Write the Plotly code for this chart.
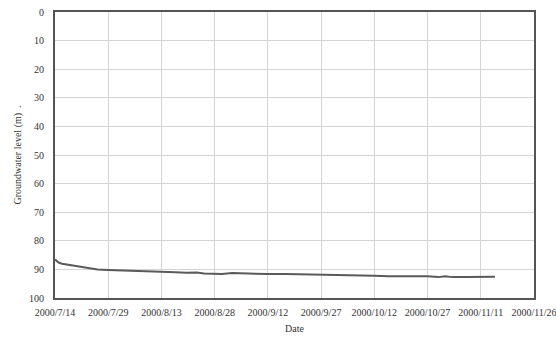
import plotly.graph_objects as go

dates = ["2000-07-14", "2000-07-15", "2000-07-16", "2000-07-18", "2000-07-20", "2000-07-22",
         "2000-07-24", "2000-07-26", "2000-07-29", "2000-08-01", "2000-08-05", "2000-08-08",
         "2000-08-11", "2000-08-13", "2000-08-17", "2000-08-20", "2000-08-23", "2000-08-25",
         "2000-08-28", "2000-08-30", "2000-09-02", "2000-09-05", "2000-09-08", "2000-09-10",
         "2000-09-12", "2000-09-17", "2000-09-22", "2000-09-27", "2000-09-30", "2000-10-05",
         "2000-10-09", "2000-10-12", "2000-10-16", "2000-10-20", "2000-10-24", "2000-10-27",
         "2000-10-30", "2000-11-01", "2000-11-03", "2000-11-07", "2000-11-11", "2000-11-15"]
levels = [86.5, 87.6, 88.0, 88.4, 88.8, 89.3,
          89.7, 90.0, 90.2, 90.3, 90.4, 90.7,
          90.8, 90.9, 91.0, 91.2, 91.1, 91.4,
          91.4, 91.6, 91.3, 91.4, 91.6, 91.5,
          91.6, 91.6, 91.7, 91.7, 92.0, 92.0,
          92.1, 92.2, 92.4, 92.5, 92.4, 92.4,
          92.7, 92.4, 92.7, 92.7, 92.6, 92.6]

tick_vals = ["2000-07-14", "2000-07-29", "2000-08-13", "2000-08-28", "2000-09-12",
             "2000-09-27", "2000-10-12", "2000-10-27", "2000-11-11", "2000-11-26"]
tick_text = ["2000/7/14", "2000/7/29", "2000/8/13", "2000/8/28", "2000/9/12",
             "2000/9/27", "2000/10/12", "2000/10/27", "2000/11/11", "2000/11/26"]
y_ticks = [0, 10, 20, 30, 40, 50, 60, 70, 80, 90, 100]

fig = go.Figure()
fig.add_trace(go.Scatter(x=dates, y=levels, mode="lines",
                         line=dict(color="#5a5a5a", width=2), showlegend=False))

font = dict(family="Liberation Serif", size=10, color="#333333")
fig.update_layout(
    width=556, height=340,
    margin=dict(l=55, r=22, t=12, b=42),
    paper_bgcolor="white", plot_bgcolor="white",
    font=font,
    xaxis=dict(
        range=["2000-07-14", "2000-11-26"], tickvals=tick_vals, ticktext=tick_text,
        showgrid=True, gridcolor="#d4d4d4", gridwidth=1,
        showline=True, linecolor="#555555", linewidth=2, mirror=True,
        ticks="", ticklabelstandoff=4, automargin=False, ticklabeloverflow="allow",
        title=dict(text="Date", font=font, standoff=8),
    ),
    yaxis=dict(
        range=[100, 0], tickvals=y_ticks,
        showgrid=True, gridcolor="#d4d4d4", gridwidth=1,
        showline=True, linecolor="#555555", linewidth=2, mirror=True,
        ticks="", ticklabelstandoff=7, automargin=False, zeroline=False,
        title=dict(text="Groundwater level (m)  .", font=font, standoff=6),
    ),
)

fig.write_html("out.html")
